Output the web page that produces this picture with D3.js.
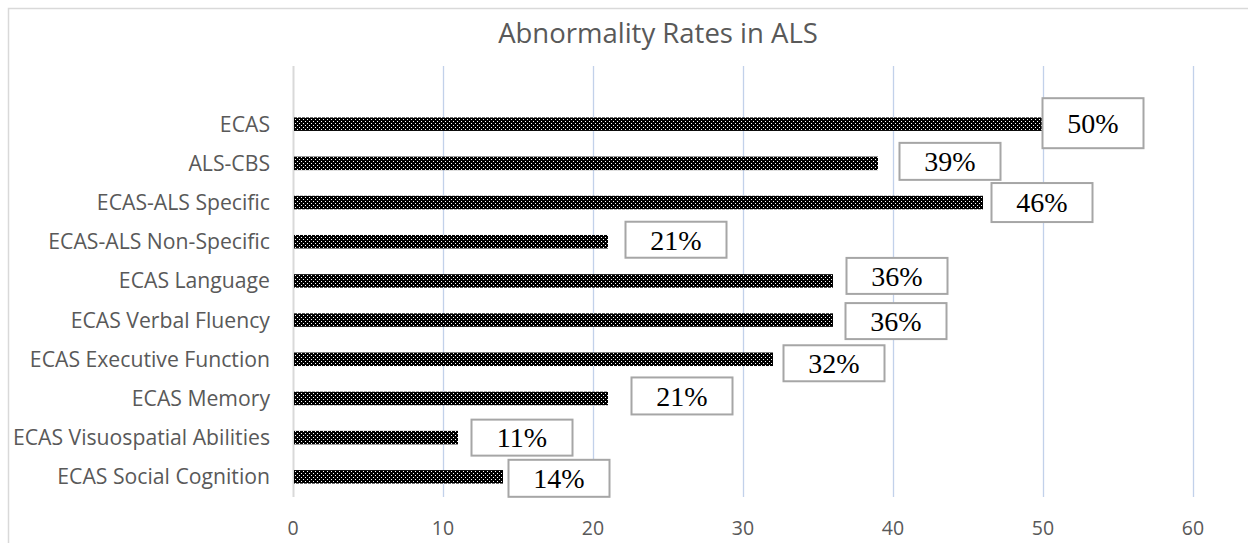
<!DOCTYPE html>
<html>
<head>
<meta charset="utf-8">
<script src="https://cdn.jsdelivr.net/npm/d3@7"></script>
<style>
  body { margin: 0; background: #fff; }
  svg { display: block; }
</style>
</head>
<body>
<div id="chart"></div>
<script>
// size of the page
var width = 1248;
var height = 543;

// data
const categories = ["ECAS", "ALS-CBS", "ECAS-ALS Specific", "ECAS-ALS Non-Specific",
  "ECAS Language", "ECAS Verbal Fluency", "ECAS Executive Function", "ECAS Memory",
  "ECAS Visuospatial Abilities", "ECAS Social Cognition"];
const values = [50, 39, 46, 21, 36, 36, 32, 21, 11, 14];
const valueLabels = ["50%", "39%", "46%", "21%", "36%", "36%", "32%", "21%", "11%", "14%"];
const xTicks = [0, 10, 20, 30, 40, 50, 60];

// label boxes were dragged by hand in the original, so keep their nudges apart
const labelDx = [50, 72, 59, 68, 64, 63, 61, 74, 64, 56];
const labelDy = [-1, -2, 0, -2, -5, 1, 4, -2.5, 0, 1.5];
const labelH = [50, 37, 39, 36, 36, 36, 36, 37, 36, 37];

const textColor = "#595959";

const svg = d3.select("#chart")
  .append("svg")
  .attr("width", width)
  .attr("height", height);

// bar fill pattern (black with little white dots)
const defs = svg.append("defs");
const pat = defs.append("pattern")
  .attr("id", "dots")
  .attr("patternUnits", "userSpaceOnUse")
  .attr("width", 4)
  .attr("height", 4);
pat.append("rect").attr("width", 4).attr("height", 4).attr("fill", "#000");
[[1, 1], [3, 3]].forEach(function(p) {
  pat.append("rect").attr("x", p[0]).attr("y", p[1])
    .attr("width", 1).attr("height", 1).attr("fill", "#fff");
});

// chart border (runs off the right and bottom edge)
svg.append("rect")
  .attr("x", 8.5).attr("y", 8.5)
  .attr("width", 1300).attr("height", 600)
  .attr("fill", "none")
  .attr("stroke", "#d9d9d9")
  .attr("stroke-width", 1.5);

const x = d3.scaleLinear()
  .domain([0, 60])
  .range([293, 1193]);

const y = d3.scaleBand()
  .domain(categories)
  .range([104.5, 496.5])
  .paddingInner(0.655)
  .paddingOuter(0.33);

const plotTop = 66, plotBottom = 497;

// gridlines
svg.append("g")
  .selectAll("line")
  .data(xTicks)
  .enter()
  .append("line")
  .attr("x1", (d) => x(d) + 0.5)
  .attr("x2", (d) => x(d) + 0.5)
  .attr("y1", plotTop)
  .attr("y2", plotBottom)
  .attr("stroke", (d) => d === 0 ? "#d9d9d9" : "#c2d1ea")
  .attr("stroke-width", (d) => d === 0 ? 2 : 1.3);

// title
svg.append("text")
  .attr("x", 658)
  .attr("y", 43)
  .attr("text-anchor", "middle")
  .style("font-family", "'Open Sans', sans-serif")
  .style("font-size", "27.5px")
  .style("fill", textColor)
  .text("Abnormality Rates in ALS");

// x tick labels
svg.append("g")
  .selectAll("text")
  .data(xTicks)
  .enter()
  .append("text")
  .attr("x", (d) => x(d))
  .attr("y", 535)
  .attr("text-anchor", "middle")
  .style("font-family", "'Open Sans', sans-serif")
  .style("font-size", "19.5px")
  .style("fill", textColor)
  .text((d) => d);

// category labels
svg.append("g")
  .selectAll("text")
  .data(categories)
  .enter()
  .append("text")
  .attr("x", 270)
  .attr("y", (d) => y(d) + y.bandwidth() / 2)
  .attr("dy", "0.35em")
  .attr("text-anchor", "end")
  .style("font-family", "'Open Sans', sans-serif")
  .style("font-size", "21.2px")
  .style("fill", textColor)
  .text((d) => d);

// bars
svg.append("g")
  .selectAll("rect")
  .data(categories)
  .enter()
  .append("rect")
  .attr("x", x(0) + 1)
  .attr("y", (d) => y(d))
  .attr("width", (d, i) => x(values[i]) - x(0) - 1)
  .attr("height", y.bandwidth())
  .attr("fill", "url(#dots)");

// value label boxes
const boxW = 101;
const lab = svg.append("g")
  .selectAll("g")
  .data(categories)
  .enter()
  .append("g")
  .attr("transform", (d, i) => "translate(" + (x(values[i]) + labelDx[i]) + "," +
    (y(d) + y.bandwidth() / 2 + labelDy[i]) + ")");

lab.append("rect")
  .attr("x", -boxW / 2)
  .attr("y", (d, i) => -labelH[i] / 2)
  .attr("width", boxW)
  .attr("height", (d, i) => labelH[i])
  .attr("fill", "#fff")
  .attr("stroke", "#a6a6a6")
  .attr("stroke-width", 2);

lab.append("text")
  .attr("text-anchor", "middle")
  .attr("dy", "0.35em")
  .style("font-family", "'Liberation Serif', 'Times New Roman', serif")
  .style("font-size", "28px")
  .style("fill", "#000")
  .text((d, i) => valueLabels[i]);
</script>
</body>
</html>
